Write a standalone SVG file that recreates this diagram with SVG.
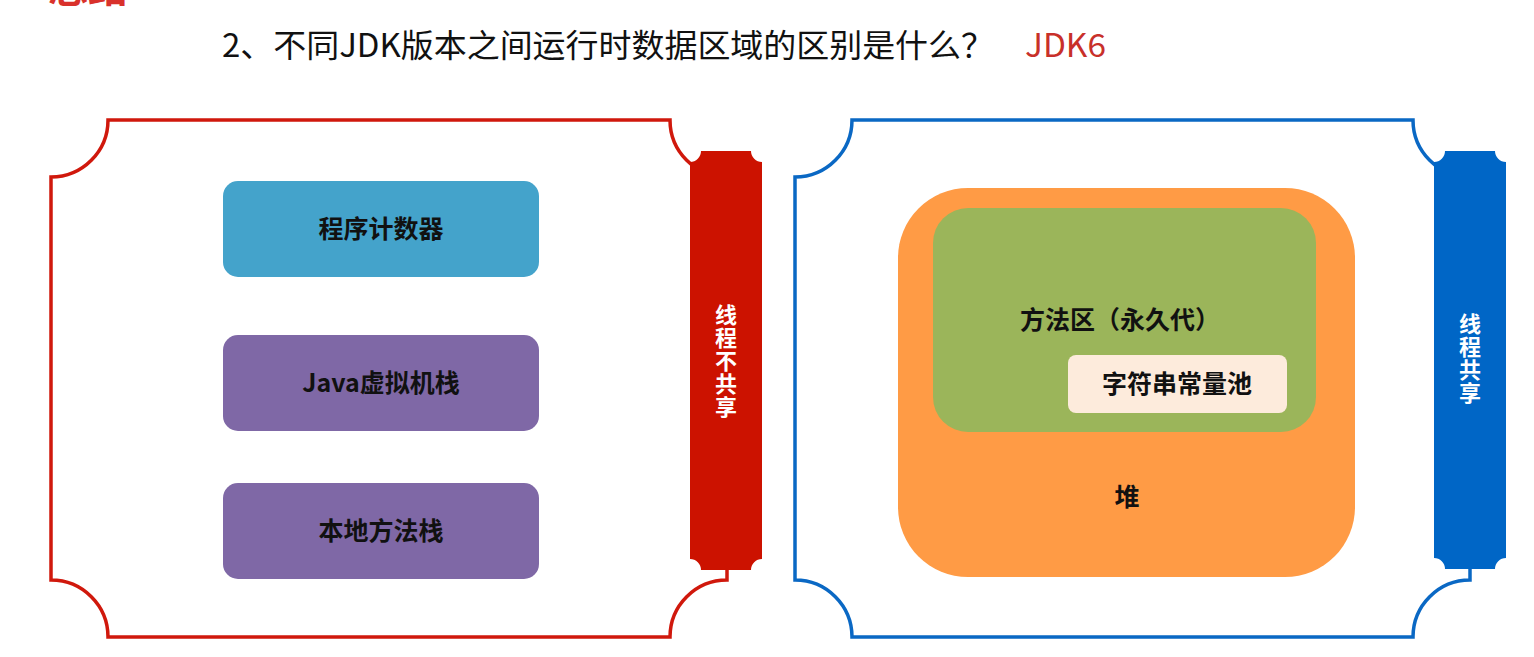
<svg xmlns="http://www.w3.org/2000/svg" width="1534" height="657" viewBox="0 0 1534 657">
<style>
.t{font-family:"Noto Sans CJK SC","Liberation Sans",sans-serif;}
.lbl{font-family:"Noto Sans CJK SC","Liberation Sans",sans-serif;font-weight:bold;font-size:25px;fill:#111;text-anchor:middle;}
.vt{font-family:"Noto Sans CJK SC","Liberation Sans",sans-serif;font-weight:bold;font-size:22px;fill:#fff;writing-mode:vertical-rl;letter-spacing:1px;}
.frame{fill:#fff;stroke-width:3.5;}
</style>
<rect width="1534" height="657" fill="#fff"/>
<text class="t" x="48" y="2" font-size="40" font-weight="bold" fill="#D9312B">总结</text>
<text class="t" x="222" y="57" font-size="32" fill="#111" textLength="772" lengthAdjust="spacingAndGlyphs">2、不同JDK版本之间运行时数据区域的区别是什么？</text>
<text class="t" x="1025" y="57" font-size="32" fill="#C8302A" textLength="81" lengthAdjust="spacingAndGlyphs">JDK6</text>

<g id="left-frame">
<path class="frame" stroke="#D0180C" d="M108,120 H670 A57,57 0 0 0 727,177 V580 A57,57 0 0 0 670,637 H108 A57,57 0 0 0 51,580 V177 A57,57 0 0 0 108,120 Z"/>
</g>
<g id="left-bar">
<path fill="#CC1200" d="M701,151 H751 A11,11 0 0 0 762,162 V559 A11,11 0 0 0 751,570 H701 A11,11 0 0 0 690,559 V162 A11,11 0 0 0 701,151 Z"/>
<text class="vt" x="726" y="304">线程不共享</text>
</g>
<g id="pc">
<rect x="223" y="181" width="316" height="96" rx="15" fill="#44A3CB"/>
<text class="lbl" x="381" y="238">程序计数器</text>
</g>
<g id="jvm-stack">
<rect x="223" y="335" width="316" height="96" rx="15" fill="#7F68A6"/>
<text class="lbl" x="381" y="392">Java虚拟机栈</text>
</g>
<g id="native-stack">
<rect x="223" y="483" width="316" height="96" rx="15" fill="#7F68A6"/>
<text class="lbl" x="381" y="540">本地方法栈</text>
</g>

<g id="right-frame">
<path class="frame" stroke="#0A68C4" d="M852,120 H1413 A57,57 0 0 0 1470,177 V580 A57,57 0 0 0 1413,637 H852 A57,57 0 0 0 795,580 V177 A57,57 0 0 0 852,120 Z"/>
</g>
<g id="right-bar">
<path fill="#0066C6" d="M1445,151 H1495 A11,11 0 0 0 1506,162 V558 A11,11 0 0 0 1495,569 H1445 A11,11 0 0 0 1434,558 V162 A11,11 0 0 0 1445,151 Z"/>
<text class="vt" x="1470" y="313">线程共享</text>
</g>
<g id="heap">
<rect x="898" y="188" width="457" height="389" rx="70" fill="#FF9B45"/>
<text class="lbl" x="1127" y="506">堆</text>
</g>
<g id="method-area">
<rect x="933" y="208" width="383" height="224" rx="35" fill="#9BB55A"/>
<text class="lbl" x="1120" y="329">方法区（永久代）</text>
</g>
<g id="string-pool">
<rect x="1068" y="355" width="219" height="58" rx="8" fill="#FDEBDC"/>
<text class="lbl" x="1177" y="393">字符串常量池</text>
</g>
</svg>
